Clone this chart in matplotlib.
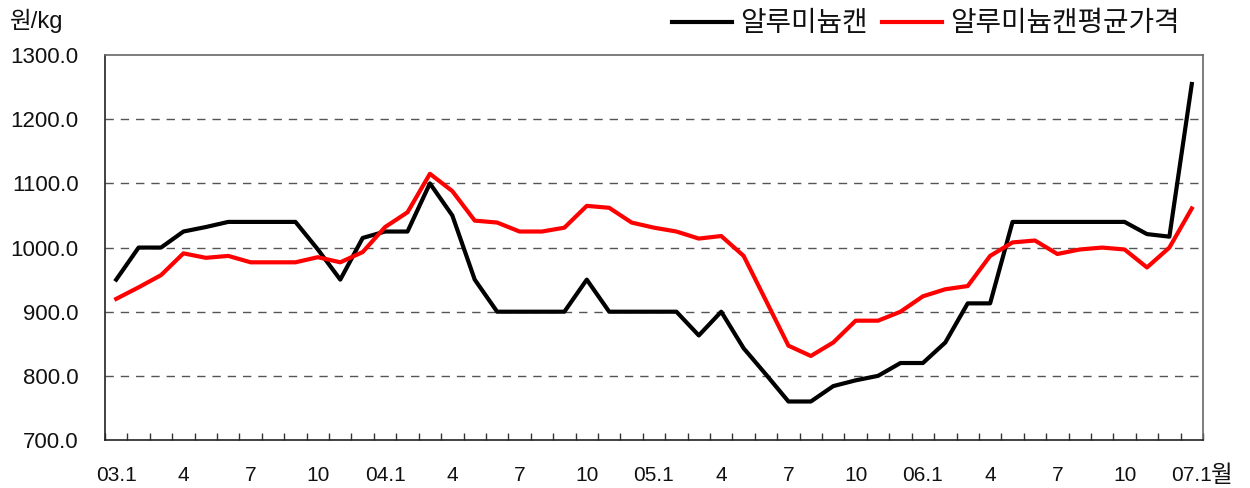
import matplotlib
matplotlib.use("Agg")
import matplotlib.pyplot as plt
import numpy as np

plt.rcParams['font.family'] = ['Liberation Sans', 'Noto Sans CJK KR']

xlabels = ['03.1', '4', '7', '10', '04.1', '4', '7', '10', '05.1', '4', '7', '10',
           '06.1', '4', '7', '10', '07.1']

can_price = [950, 1000, 1000, 1025, 1032, 1040, 1040, 1040, 1040, 997,
             950, 1015, 1025, 1025, 1100, 1050, 950, 900, 900, 900,
             900, 950, 900, 900, 900, 900, 863, 900, 843, 802,
             760, 760, 784, 793, 800, 820, 820, 852, 913, 913,
             1040, 1040, 1040, 1040, 1040, 1040, 1021, 1017, 1255]

avg_price = [920, 938, 957, 991, 984, 987, 977, 977, 977, 985,
             977, 993, 1032, 1055, 1115, 1088, 1042, 1039, 1025, 1025,
             1031, 1065, 1062, 1039, 1031, 1025, 1014, 1018, 987, 917,
             847, 831, 852, 886, 886, 900, 924, 935, 940, 987,
             1008, 1011, 990, 997, 1000, 997, 969, 1000, 1061]

yticks = [700, 800, 900, 1000, 1100, 1200, 1300]

fig = plt.figure(figsize=(12.5, 4.88), dpi=100)
ax = fig.add_axes([0.084, 0.0984, 0.8784, 0.7886])

x = np.arange(len(can_price))
ax.plot(x, can_price, color='black', lw=3.0, label='알루미늄캔')
ax.plot(x, avg_price, color='#ff0000', lw=3.0, label='알루미늄캔평균가격')

ax.set_xlim(-0.5, len(can_price) - 0.5)
ax.set_ylim(700, 1300)
ax.set_yticks(yticks)
ax.set_yticklabels([f'{v:.1f}' for v in yticks], fontsize=16, color='#111111')
for v in yticks[1:-1]:
    ax.axhline(v, color='#555555', lw=1.0, ls=(0, (6, 5)), zorder=0)

ax.set_xticks(np.arange(0, len(can_price), 3))
ax.set_xticklabels(xlabels, fontsize=15, color='#111111')
ax.set_xticks(np.arange(-0.5, len(can_price), 1), minor=True)
ax.tick_params(axis='x', which='major', length=0, pad=19)
ax.tick_params(axis='x', which='minor', direction='in', length=5, width=1, color='#333333')
ax.tick_params(axis='y', which='major', length=0, pad=19)

for s in ['left', 'bottom']:
    ax.spines[s].set_color('#222222')
    ax.spines[s].set_linewidth(1.2)
for s in ['top', 'right']:
    ax.spines[s].set_color('#666666')
    ax.spines[s].set_linewidth(1.2)

fig.text(0.008, 0.957, '원/kg', fontsize=17, va='center', ha='left', color='#111111')
fig.text(0.969, 0.026, '월', fontsize=17, va='center', ha='left', color='#111111',
         family=['Noto Sans CJK KR'])

leg = fig.legend(loc='center right', bbox_to_anchor=(0.944, 0.952), ncol=2, frameon=False,
                 prop={'family': 'Noto Sans CJK KR', 'size': 20},
                 handlelength=2.16, handletextpad=0.29, columnspacing=0.54,
                 borderaxespad=0, borderpad=0)
for t in leg.get_texts():
    t.set_color('#111111')

fig.savefig('out.png', dpi=100)
